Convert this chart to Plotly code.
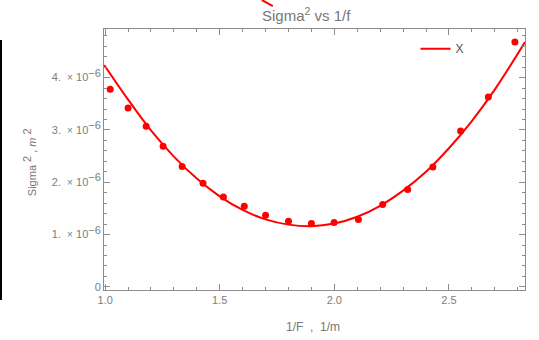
import plotly.graph_objects as go

# measured data points
x_data = [1.022, 1.100, 1.179, 1.253, 1.336, 1.427, 1.516, 1.607, 1.700, 1.800,
          1.900, 1.999, 2.105, 2.211, 2.320, 2.430, 2.551, 2.672, 2.788]
y_data = [3.78, 3.42, 3.07, 2.69, 2.30, 1.98, 1.72, 1.54, 1.37, 1.256,
          1.21, 1.23, 1.29, 1.575, 1.86, 2.29, 2.98, 3.63, 4.68]
y_data = [v * 1e-6 for v in y_data]

# fitted curve
x_fit = [0.996, 1.1, 1.2, 1.3, 1.4, 1.5, 1.6, 1.7, 1.8, 1.9, 2.0, 2.1, 2.2,
         2.3, 2.4, 2.5, 2.6, 2.7, 2.832]
y_fit = [4.24, 3.58, 2.99, 2.49, 2.07, 1.73, 1.47, 1.29, 1.19, 1.16, 1.21,
         1.34, 1.55, 1.84, 2.20, 2.65, 3.17, 3.77, 4.68]
y_fit = [v * 1e-6 for v in y_fit]

x_ticks = [1.0, 1.5, 2.0, 2.5]
x_labels = ["1.0", "1.5", "2.0", "2.5"]
y_ticks = [0, 1e-6, 2e-6, 3e-6, 4e-6]
y_mant = ["1.", "2.", "3.", "4."]
SUP = "<sup><span style='font-size:11px'>\u22126</span></sup>"
y_labels = ["0"] + [m + "  <span style='font-size:10px'>\u00d7</span> 10" + SUP for m in y_mant]

RED = "#ff0000"
GRAY = "#7d7d7d"
FRAME = "#8c8c8c"
FONT = "Liberation Sans, Arial"

fig = go.Figure()
fig.add_trace(go.Scatter(x=x_fit, y=y_fit, mode="lines", name="X",
                         line=dict(color=RED, width=2, shape="spline", smoothing=1.0)))
fig.add_trace(go.Scatter(x=x_data, y=y_data, mode="markers", showlegend=False,
                         marker=dict(color=RED, size=7)))

axis_common = dict(showline=True, linecolor=FRAME, linewidth=1, mirror="ticks",
                   ticks="inside", tickcolor=FRAME, ticklen=6, showgrid=False,
                   zeroline=False, tickfont=dict(family=FONT, size=11, color=GRAY))

fig.update_xaxes(range=[0.995, 2.832], tickvals=x_ticks, ticktext=x_labels,
                 minor=dict(dtick=0.1, tick0=1.0, ticks="inside", ticklen=3, tickcolor=FRAME, showgrid=False),
                 **axis_common)
fig.update_yaxes(range=[-0.06e-6, 4.93e-6], tickvals=y_ticks, ticktext=y_labels,
                 minor=dict(dtick=0.2e-6, tick0=0, ticks="inside", ticklen=3, tickcolor=FRAME, showgrid=False),
                 **axis_common)

fig.update_layout(
    width=539, height=340,
    margin=dict(l=104, r=14, t=29, b=50),
    paper_bgcolor="white", plot_bgcolor="white",
    showlegend=True,
    legend=dict(x=0.74, y=0.98, xanchor="left", yanchor="top", bgcolor="rgba(0,0,0,0)",
                font=dict(family=FONT, size=12, color="#555")),
    annotations=[
        dict(text="Sigma<sup>2</sup> vs 1/f", xref="paper", yref="paper", x=0.482, y=1.057,
             showarrow=False, xanchor="center", yanchor="middle",
             font=dict(family=FONT, size=15, color="#777")),
        dict(text="Sigma <sup><span style='font-size:11px'>2</span></sup> , <i>m</i> <sup><span style='font-size:11px'>2</span></sup>",
             xref="paper", yref="paper",
             x=-0.178, y=0.49, textangle=-90, showarrow=False, xanchor="center", yanchor="middle",
             font=dict(family=FONT, size=11, color="#777")),
        dict(text="1/F  ,  1/m", xref="paper", yref="paper", x=0.497, y=-0.142,
             showarrow=False, xanchor="center", yanchor="middle",
             font=dict(family=FONT, size=12, color="#777")),
    ],
    shapes=[
        dict(type="line", xref="paper", yref="paper", x0=-0.2447, x1=-0.2447, y0=-0.038, y1=0.958,
             line=dict(color="black", width=2)),
        dict(type="line", xref="paper", yref="paper", x0=0.375, x1=0.401, y0=1.111, y1=1.088,
             line=dict(color=RED, width=2)),
    ],
)

fig.write_html("out.html")
